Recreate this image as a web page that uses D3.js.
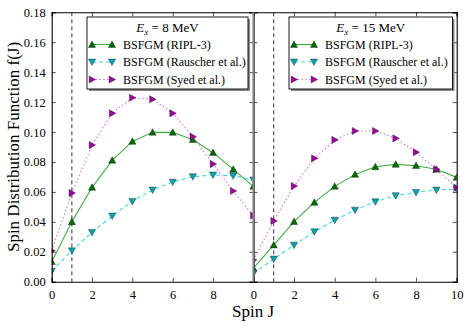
<!DOCTYPE html>
<html>
<head>
<meta charset="utf-8">
<script src="https://cdn.jsdelivr.net/npm/d3@7/dist/d3.min.js"></script>
<style>
  body { margin: 0; background: #fff; }
</style>
</head>
<body>
<div id="app"></div>
<script>
const WIDTH = 469;
const HEIGHT = 326;

// spin values J = 0..10
const spins = [0, 1, 2, 3, 4, 5, 6, 7, 8, 9, 10];

// Ex = 8 MeV
const ripl8 = [0.0134, 0.0400, 0.0630, 0.0811, 0.0937, 0.0998, 0.0998, 0.0949, 0.0862, 0.0751, 0.0637];
const rauscher8 = [0.0071, 0.0207, 0.0330, 0.0439, 0.0537, 0.0613, 0.0666, 0.0702, 0.0713, 0.0708, 0.0680];
const syed8 = [0.0207, 0.0593, 0.0913, 0.1125, 0.1229, 0.1219, 0.1125, 0.0969, 0.0786, 0.0606, 0.0441];

// Ex = 15 MeV
const ripl15 = [0.0090, 0.0245, 0.0401, 0.0530, 0.0637, 0.0717, 0.0768, 0.0784, 0.0775, 0.0751, 0.0697];
const rauscher15 = [0.0055, 0.0152, 0.0245, 0.0334, 0.0412, 0.0479, 0.0535, 0.0575, 0.0597, 0.0613, 0.0619];
const syed15 = [0.0145, 0.0406, 0.0639, 0.0824, 0.0947, 0.1007, 0.1007, 0.0958, 0.0865, 0.0751, 0.0628];

const xTicks = [0, 2, 4, 6, 8, 10];
const yTicks = [0, 0.02, 0.04, 0.06, 0.08, 0.10, 0.12, 0.14, 0.16, 0.18];
const seriesNames = ['BSFGM (RIPL-3)', 'BSFGM (Rauscher et al.)', 'BSFGM (Syed et al.)'];
const energies = ['8', '15'];

const FONT = 'Liberation Serif';

const panels = [
  { ex: energies[0], series: [ripl8, rauscher8, syed8], x0: 51.7, x1: 253.4, labelLast: false, legendX: 87, legendW: 161 },
  { ex: energies[1], series: [ripl15, rauscher15, syed15], x0: 253.4, x1: 456.7, labelLast: true, legendX: 289, legendW: 163.5 }
];

const styles = [
  { line: '#3fae3f', fill: '#006d00', dash: null, marker: 'up' },
  { line: '#45d8d8', fill: '#00a5b0', dash: '4,3', marker: 'down' },
  { line: '#e04ce0', fill: '#a000a0', dash: '1.2,2.6', marker: 'right' }
];

const plotTop = 12.3, plotBottom = 281.7;
const y = d3.scaleLinear().domain([0, 0.18]).range([plotBottom, plotTop]);

const svg = d3.select('#app').append('svg')
  .attr('width', WIDTH)
  .attr('height', HEIGHT)
  .style('font-family', FONT);

function markerPath(type) {
  const s = 3.6;
  if (type === 'up') return `M0,${-s}L${s},${s * 0.8}L${-s},${s * 0.8}Z`;
  if (type === 'down') return `M0,${s}L${s},${-s * 0.8}L${-s},${-s * 0.8}Z`;
  return `M${s},0L${-s * 0.8},${s}L${-s * 0.8},${-s}Z`;
}

panels.forEach((p, pi) => {
  const x = d3.scaleLinear().domain([0, 10]).range([p.x0, p.x1]);
  const g = svg.append('g');

  g.append('clipPath').attr('id', 'clip' + pi)
    .append('rect')
      .attr('x', p.x0).attr('y', plotTop)
      .attr('width', p.x1 - p.x0).attr('height', plotBottom - plotTop);

  // dashed line at J = 1
  g.append('line')
    .attr('x1', x(1)).attr('x2', x(1))
    .attr('y1', plotTop).attr('y2', plotBottom)
    .attr('stroke', '#333').attr('stroke-width', 1)
    .attr('stroke-dasharray', '4,3');

  const plot = g.append('g').attr('clip-path', `url(#clip${pi})`);
  const line = d3.line().x((d, i) => x(spins[i])).y(d => y(d));

  p.series.forEach((vals, si) => {
    const st = styles[si];
    plot.append('path')
      .datum(vals)
      .attr('d', line)
      .attr('fill', 'none')
      .attr('stroke', st.line)
      .attr('stroke-width', 1.1)
      .attr('stroke-dasharray', st.dash);
    plot.selectAll('.m' + si)
      .data(vals)
      .enter()
        .append('path')
        .attr('class', 'm' + si)
        .attr('d', markerPath(st.marker))
        .attr('transform', (d, i) => `translate(${x(spins[i])},${y(d)})`)
        .attr('fill', st.fill)
        .attr('stroke', '#1a1a1a')
        .attr('stroke-width', 0.4);
  });

  // axes, ticks inward on all sides
  const fmtX = d => (d === 10 && !p.labelLast) ? '' : d;
  g.append('g')
    .attr('transform', `translate(0,${plotBottom})`)
    .call(d3.axisBottom(x).tickValues(xTicks).tickSize(-4).tickPadding(8).tickFormat(fmtX));
  g.append('g')
    .attr('transform', `translate(0,${plotTop})`)
    .call(d3.axisTop(x).tickValues(xTicks).tickSize(-4).tickFormat(''));
  g.append('g')
    .attr('transform', `translate(${p.x0},0)`)
    .call(d3.axisLeft(y).tickValues(yTicks).tickSize(-4).tickPadding(6)
      .tickFormat(pi === 0 ? d3.format('.2f') : ''));
  g.append('g')
    .attr('transform', `translate(${p.x1},0)`)
    .call(d3.axisRight(y).tickValues(yTicks).tickSize(-4).tickFormat(''));

  g.selectAll('.domain').attr('stroke', '#000').attr('stroke-width', 1.1);
  g.selectAll('.tick line').attr('stroke', '#000').attr('stroke-width', 0.7);
  g.selectAll('.tick text')
    .attr('fill', '#000')
    .attr('font-size', 12.5);

  // legend
  const lg = g.append('g');
  const lx = p.legendX, ly = 17, lw = p.legendW, lh = 72;
  lg.append('rect')
    .attr('x', lx + 2).attr('y', ly + 2).attr('width', lw).attr('height', lh)
    .attr('fill', '#888');
  lg.append('rect')
    .attr('x', lx).attr('y', ly).attr('width', lw).attr('height', lh)
    .attr('fill', '#fff').attr('stroke', '#000').attr('stroke-width', 0.9);

  const title = lg.append('text')
    .attr('x', lx + lw / 2).attr('y', ly + 15)
    .attr('text-anchor', 'middle')
    .attr('font-size', 13);
  title.append('tspan').attr('font-style', 'italic').text('E');
  title.append('tspan').attr('font-style', 'italic').attr('font-size', 9).attr('dy', 3).text('x');
  title.append('tspan').attr('dy', -3).text(` = ${p.ex} MeV`);

  seriesNames.forEach((name, si) => {
    const st = styles[si];
    const ry = ly + 27.5 + si * 17.5;
    const sx0 = lx + 5, sx1 = lx + 25;
    lg.append('line')
      .attr('x1', sx0).attr('x2', sx1).attr('y1', ry).attr('y2', ry)
      .attr('stroke', st.line).attr('stroke-width', 1.1)
      .attr('stroke-dasharray', st.dash);
    [sx0, sx1].forEach(mx => {
      lg.append('path')
        .attr('d', markerPath(st.marker))
        .attr('transform', `translate(${mx},${ry})`)
        .attr('fill', st.fill)
        .attr('stroke', '#1a1a1a')
        .attr('stroke-width', 0.4);
    });
    lg.append('text')
      .attr('x', lx + 36).attr('y', ry + 4)
      .attr('font-size', 12)
      .text(name);
  });
});

// shared middle spine looks grey in the reference
svg.append('line')
  .attr('x1', panels[1].x0).attr('x2', panels[1].x0)
  .attr('y1', plotTop).attr('y2', plotBottom)
  .attr('stroke', '#888').attr('stroke-width', 2);

svg.append('text')
  .attr('x', 253).attr('y', 317)
  .attr('text-anchor', 'middle')
  .attr('font-size', 17)
  .text('Spin J');

svg.append('text')
  .attr('transform', `translate(19,${(plotTop + plotBottom) / 2}) rotate(-90)`)
  .attr('text-anchor', 'middle')
  .attr('font-size', 17)
  .text('Spin Distribution Function f(J)');

svg.selectAll('text').attr('font-family', FONT);
</script>
</body>
</html>
